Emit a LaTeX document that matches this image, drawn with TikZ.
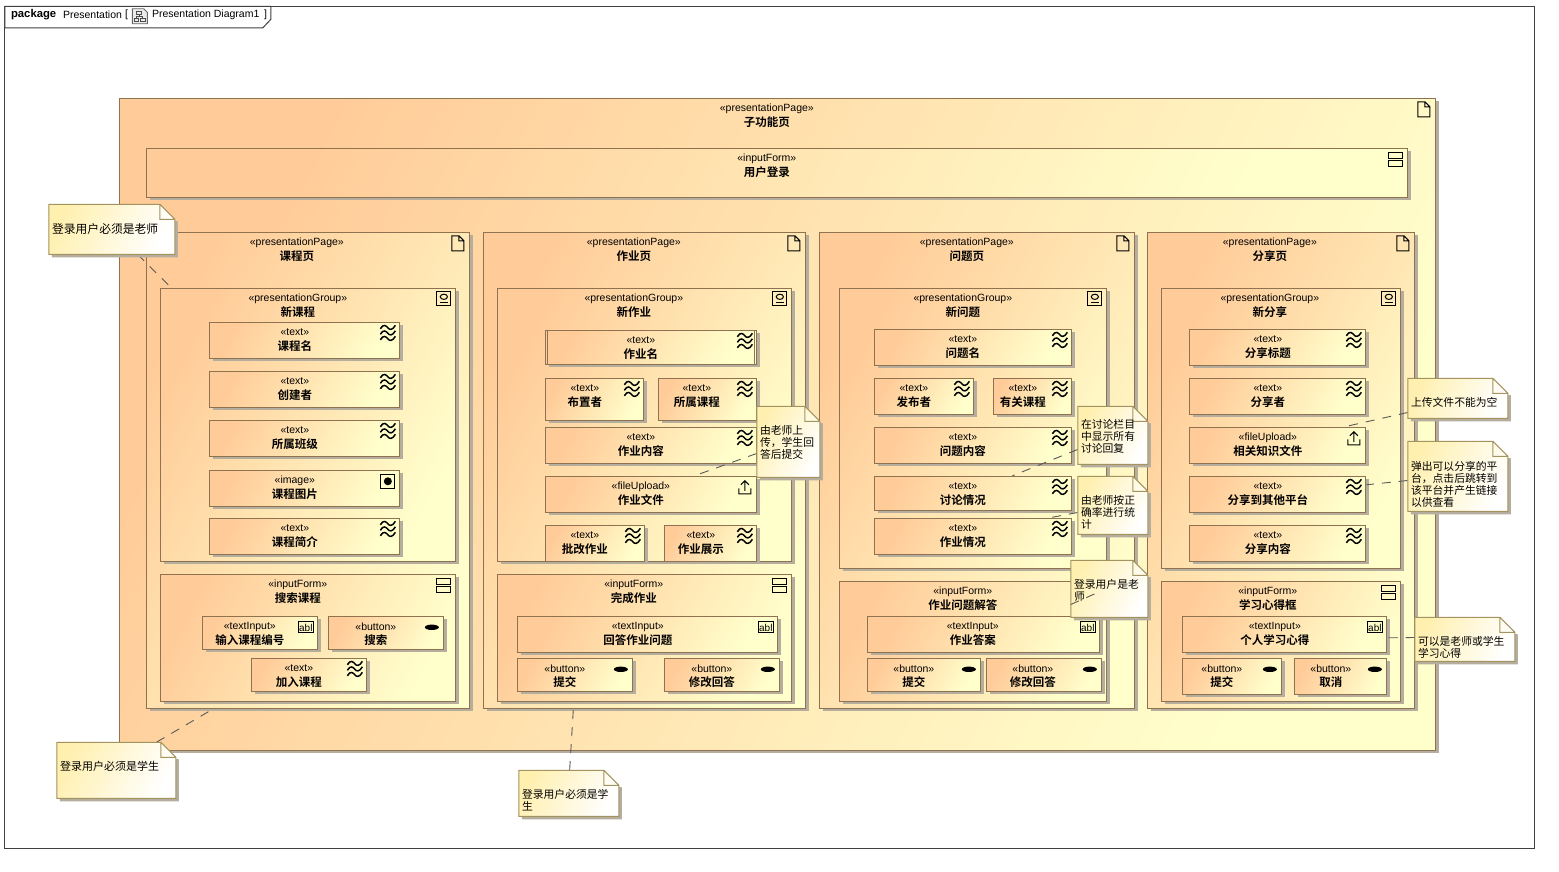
\documentclass[tikz,border=0pt]{standalone}
\usepackage{fontspec}
\setmainfont{Liberation Sans}
\newfontfamily\cjk[BoldFont={Noto Sans CJK SC Bold}]{Noto Sans CJK SC}
\usetikzlibrary{calc}
\definecolor{boxA}{HTML}{FFCC99}
\definecolor{boxB}{HTML}{FFFFCC}
\definecolor{boxLine}{HTML}{8F7350}
\definecolor{boxShadow}{HTML}{B5AE9E}
\definecolor{noteA}{HTML}{FFF0B0}
\definecolor{noteB}{HTML}{FFFFFF}
\definecolor{noteLine}{HTML}{A3935F}
\pgfdeclarelayer{top}\pgfdeclarelayer{over}
\pgfsetlayers{main,top,over}
\tikzset{
  ubox/.style={rectangle,draw=boxLine,line width=1pt,inner sep=0pt,left color=boxA,right color=boxB,shading angle=62},
  stereolabel/.style={inner sep=0pt,font=\fontsize{10.5}{12}\selectfont},
  titlelabel/.style={inner sep=0pt,font=\fontsize{11.5}{13}\cjk\bfseries},
  noterect/.style={rectangle,inner sep=0pt,draw=none},
  notefill/.style={left color=noteA,right color=noteB,shading angle=62},
  notelabel/.style={inner sep=0pt,anchor=west,align=left},
  conn/.style={draw=black!65,line width=.9pt,dash pattern=on 9pt off 8pt},
  ico/.style={draw=black,line width=1pt,fill=none},
}
% icons, drawn around the origin of a scope
\newcommand{\icDoc}{\draw[ico] (-6,-7.5) -- (1,-7.5) -- (6,-2.5) -- (6,7.5) -- (-6,7.5) -- cycle (1,-7.5) -- (1,-2.5) -- (6,-2.5);}
\newcommand{\icForm}{\draw[ico] (-7,-7) rectangle (7,-1) (-7,1) rectangle (7,7);}
\newcommand{\icGroup}{\begin{scope}[yshift=1pt]\draw[ico] (-7,-7) rectangle (7,7);\draw[line width=1pt] (0,-1.5) ellipse (3.6 and 2.6);\draw[line width=1pt] (-4,4) -- (4,4);\end{scope}}
\newcommand{\icImage}{\draw[ico,line width=1.1pt] (-7,-7) rectangle (7,7);\fill (0,0) circle (4);}
\newcommand{\icWave}{\foreach \k in {-5.5,0,5.5}{\draw[line width=1.5pt] (-7.5,\k+1) .. controls (-4.5,\k-4.5) and (-1.5,\k-2) .. (0,\k) .. controls (1.5,\k+2) and (4.5,\k+3) .. (7.5,\k-2.5);}}
\newcommand{\icAbl}{\draw[ico] (-7.5,-5.5) rectangle (7.5,5.5);\node[inner sep=0pt,font=\fontsize{10}{10}\selectfont] at (0,0.3) {abl};}
\newcommand{\icBtn}{\fill (0,0) ellipse (7 and 2.7);}
\newcommand{\icUp}{\draw[ico] (-6,1) -- (-6,6.5) -- (6,6.5) -- (6,1) (0,3.5) -- (0,-6.5) (-4,-2.5) -- (0,-6.5) -- (4,-2.5);}
% box: name, x1,y1,x2,y2, stereotype, title, text centre, icon
\newcommand{\ubx}[9]{%
  \pgfmathsetmacro{\cxv}{(#2+#4)/2}\pgfmathsetmacro{\cyv}{(#3+#5)/2}%
  \pgfmathsetmacro{\wv}{#4-#2}\pgfmathsetmacro{\hv}{#5-#3}%
  \fill[boxShadow] (#2+3,#3+3) rectangle (#4+3,#5+3);
  \node[ubox,minimum width=\wv pt,minimum height=\hv pt] (#1) at (\cxv,\cyv) {};
  \node[stereolabel] (#1s) at (#8,#3+10.3) {«#6»};
  \node[titlelabel] (#1t) at (#8,#3+23.6) {#7};
  \begin{scope}[shift={(#4-12,#3+11)}]#9\end{scope}%
}
% note: name, x1,y1,x2,y2, font size, text y, text
\newcommand{\unote}[8]{%
  \pgfmathsetmacro{\cxv}{(#2+#4)/2}\pgfmathsetmacro{\cyv}{(#3+#5)/2}%
  \pgfmathsetmacro{\wv}{#4-#2}\pgfmathsetmacro{\hv}{#5-#3}%
  \begin{pgfonlayer}{top}
  \fill[boxShadow] (#2+3,#3+3) -- (#4+3,#3+17) -- (#4+3,#5+3) -- (#2+3,#5+3) -- cycle;
  \shade[notefill] (#2,#3) -- (#4-15,#3) -- (#4,#3+15) -- (#4,#5) -- (#2,#5) -- cycle;
  \draw[noteLine,line width=1pt,line join=miter] (#2,#3) -- (#4-15,#3) -- (#4,#3+15) -- (#4,#5) -- (#2,#5) -- cycle (#4-15,#3) -- (#4-15,#3+15) -- (#4,#3+15);
  \node[noterect,minimum width=\wv pt,minimum height=\hv pt] (#1) at (\cxv,\cyv) {};
  \node[notelabel,font=\fontsize{#6}{12.2}\cjk] (#1t) at (#2+3,#7) {#8};
  \end{pgfonlayer}%
}
\begin{document}
\begin{tikzpicture}[x=1pt,y=-1pt]
\useasboundingbox (0,0) rectangle (1559,872);
\fill[white] (0,0) rectangle (1559,872);
\begin{scope}[xshift=-0.15pt,yshift=-0.3pt]
% frame
\node[rectangle,draw=black!75,line width=1pt,inner sep=0pt,minimum width=1530pt,minimum height=842pt] (frame) at (770,427) {};
\draw[black!75,line width=1pt,fill=white] (5,6) -- (271,6) -- (271,19) -- (263,27.5) -- (5,27.5) -- cycle;
\node[inner sep=0pt,anchor=west,font=\fontsize{11.3}{12}\selectfont\bfseries] (fpkg) at (11,14.7) {package};
\node[inner sep=0pt,anchor=west,font=\fontsize{10.5}{12}\selectfont] (fname) at (63,14.7) {Presentation};
\node[inner sep=0pt,anchor=west,font=\fontsize{10.5}{12}\selectfont] (fbr1) at (125,14.7) {[};
\node[inner sep=0pt,anchor=west,font=\fontsize{10.5}{12}\selectfont] (fdia) at (152,14.7) {Presentation Diagram1};
\node[inner sep=0pt,anchor=west,font=\fontsize{10.5}{12}\selectfont] (fbr2) at (264,14.7) {]};
\draw[black!60,line width=.8pt,fill=black!8] (132.5,8.5) -- (144,8.5) -- (147.5,12) -- (147.5,23.5) -- (132.5,23.5) -- cycle;
\draw[black!70,line width=.8pt] (137,11) rectangle (142,14) (134.5,18) rectangle (138.5,21.5) (141,18) rectangle (145.5,21.5) (139.5,14) -- (139.5,16) (136.5,18) -- (136.5,16) -- (143,16) -- (143,18);
% outer page
\ubx{outer}{120}{98}{1436}{750}{presentationPage}{子功能页}{767}{\icDoc}
\ubx{login}{147}{148}{1408}{197}{inputForm}{用户登录}{767}{\icForm}
% course page
\ubx{pa}{147}{232}{470}{708}{presentationPage}{课程页}{297}{\icDoc}
\ubx{ga}{161}{288}{456}{561}{presentationGroup}{新课程}{298}{\icGroup}
\ubx{aa}{210}{322}{400}{358}{text}{课程名}{295}{\icWave}
\ubx{ab}{210}{371}{400}{407}{text}{创建者}{295}{\icWave}
\ubx{ac}{210}{420}{400}{456}{text}{所属班级}{295}{\icWave}
\ubx{ad}{210}{470}{400}{506}{image}{课程图片}{295}{\icImage}
\ubx{ae}{210}{518}{400}{554}{text}{课程简介}{295}{\icWave}
\ubx{fa}{161}{574}{456}{701}{inputForm}{搜索课程}{298}{\icForm}
\ubx{af}{203}{616}{318}{649}{textInput}{输入课程编号}{250}{\icAbl}
\ubx{ag}{329}{616}{444}{649}{button}{搜索}{376}{\icBtn}
\ubx{ah}{252}{658}{367}{691}{text}{加入课程}{299}{\icWave}
% homework page
\ubx{pb}{484}{232}{806}{708}{presentationPage}{作业页}{634}{\icDoc}
\ubx{gb}{498}{288}{792}{561}{presentationGroup}{新作业}{634}{\icGroup}
\ubx{ba}{546}{330}{757}{364}{text}{作业名}{641}{\icWave}
\draw[boxLine,line width=1pt] ([xshift=2pt]ba.north west) -- ([xshift=2pt]ba.south west) ([xshift=-2.5pt]ba.north east) -- ([xshift=-2.5pt]ba.south east);
\ubx{bb}{546}{378}{644}{420}{text}{布置者}{585}{\icWave}
\ubx{bc}{659}{378}{757}{420}{text}{所属课程}{697}{\icWave}
\ubx{bd}{546}{427}{757}{463}{text}{作业内容}{641}{\icWave}
\ubx{be}{546}{476}{757}{512}{fileUpload}{作业文件}{641}{\icUp}
\ubx{bf}{546}{525}{645}{561}{text}{批改作业}{585}{\icWave}
\ubx{bg}{665}{525}{757}{561}{text}{作业展示}{701}{\icWave}
\ubx{fb}{498}{574}{792}{701}{inputForm}{完成作业}{634}{\icForm}
\ubx{bh}{518}{616}{778}{652}{textInput}{回答作业问题}{638}{\icAbl}
\ubx{bi}{518}{658}{633}{691}{button}{提交}{565}{\icBtn}
\ubx{bj}{665}{658}{780}{691}{button}{修改回答}{712}{\icBtn}
% question page
\ubx{pc}{820}{232}{1135}{708}{presentationPage}{问题页}{967}{\icDoc}
\ubx{gc}{840}{288}{1107}{568}{presentationGroup}{新问题}{963}{\icGroup}
\ubx{ca}{875}{329}{1072}{365}{text}{问题名}{963}{\icWave}
\ubx{cb}{875}{378}{974}{414}{text}{发布者}{914}{\icWave}
\ubx{cc}{994}{378}{1072}{414}{text}{有关课程}{1023}{\icWave}
\ubx{cd}{875}{427}{1072}{463}{text}{问题内容}{963}{\icWave}
\ubx{ce}{875}{476}{1072}{510}{text}{讨论情况}{963}{\icWave}
\ubx{cf}{875}{518}{1072}{554}{text}{作业情况}{963}{\icWave}
\ubx{fc}{840}{581}{1107}{701}{inputForm}{作业问题解答}{963}{\icForm}
\ubx{cg}{868}{616}{1100}{652}{textInput}{作业答案}{973}{\icAbl}
\ubx{ch}{868}{658}{981}{691}{button}{提交}{914}{\icBtn}
\ubx{ci}{987}{658}{1102}{691}{button}{修改回答}{1033}{\icBtn}
% share page
\ubx{pd}{1148}{232}{1415}{708}{presentationPage}{分享页}{1270}{\icDoc}
\ubx{gd}{1162}{288}{1401}{568}{presentationGroup}{新分享}{1270}{\icGroup}
\ubx{da}{1190}{329}{1366}{365}{text}{分享标题}{1268}{\icWave}
\ubx{db}{1190}{378}{1366}{414}{text}{分享者}{1268}{\icWave}
\ubx{dc}{1190}{427}{1366}{463}{fileUpload}{相关知识文件}{1268}{\icUp}
\ubx{dd}{1190}{476}{1366}{512}{text}{分享到其他平台}{1268}{\icWave}
\ubx{de}{1190}{525}{1366}{561}{text}{分享内容}{1268}{\icWave}
\ubx{fd}{1162}{581}{1401}{701}{inputForm}{学习心得框}{1268}{\icForm}
\ubx{df}{1183}{616}{1387}{652}{textInput}{个人学习心得}{1275}{\icAbl}
\ubx{dg}{1183}{658}{1282}{694}{button}{提交}{1222}{\icBtn}
\ubx{dh}{1295}{658}{1387}{694}{button}{取消}{1331}{\icBtn}
% notes
\unote{na}{49}{204}{175}{254}{11.8}{229}{登录用户必须是老师}
\unote{nb}{57}{742}{176}{798}{11}{766}{登录用户必须是学生}
\unote{nc}{519}{770}{619}{816}{10.8}{800}{登录用户必须是学\\生}
\unote{nd}{757}{406}{820}{477}{10.8}{442}{由老师上\\传，学生回\\答后提交}
\unote{ne}{1078}{406}{1148}{464}{10.8}{436}{在讨论栏目\\中显示所有\\讨论回复}
\unote{nf}{1078}{476}{1148}{534}{10.8}{512}{由老师按正\\确率进行统\\计}
\unote{ng}{1071}{560}{1148}{617}{10.8}{590}{登录用户是老\\师}
\unote{nh}{1408}{378}{1508}{418}{10.8}{402}{上传文件不能为空}
\unote{ni}{1408}{441}{1508}{511}{10.8}{484}{弹出可以分享的平\\台，点击后跳转到\\该平台并产生链接\\以供查看}
\unote{nj}{1415}{617}{1515}{661}{10.8}{647}{可以是老师或学生\\学习心得}
% connectors
\draw[conn] ([xshift=89pt]na.south west) -- ([xshift=11pt]ga.north west);
\draw[conn] ([xshift=100pt]nb.north west) -- ([xshift=67pt]pa.south west);
\draw[conn] ([xshift=51pt]nc.north west) -- ([xshift=90pt]pb.south west);
\draw[conn] ([yshift=24pt]nd.south west) -- ([xshift=149pt]be.north west);
\draw[conn] ([yshift=15pt]ne.south west) -- ([xshift=138pt]ce.north west);
\draw[conn] ([yshift=22pt]nf.south west) -- ([xshift=175pt]cf.north west);
\draw[conn] ([yshift=6pt]nh.south west) -- ([xshift=155pt]dc.north west);
\draw[conn] ([yshift=31pt]ni.south west) -- ([yshift=28pt]dd.south east);
\draw[conn] ([yshift=24pt]nj.south west) -- ([yshift=15pt]df.south east);
\begin{pgfonlayer}{over}
\draw[conn] ([yshift=13pt]ng.south west) -- ([xshift=260pt,yshift=-11pt]fc.north west);
\end{pgfonlayer}
\end{scope}
\end{tikzpicture}
\end{document}
